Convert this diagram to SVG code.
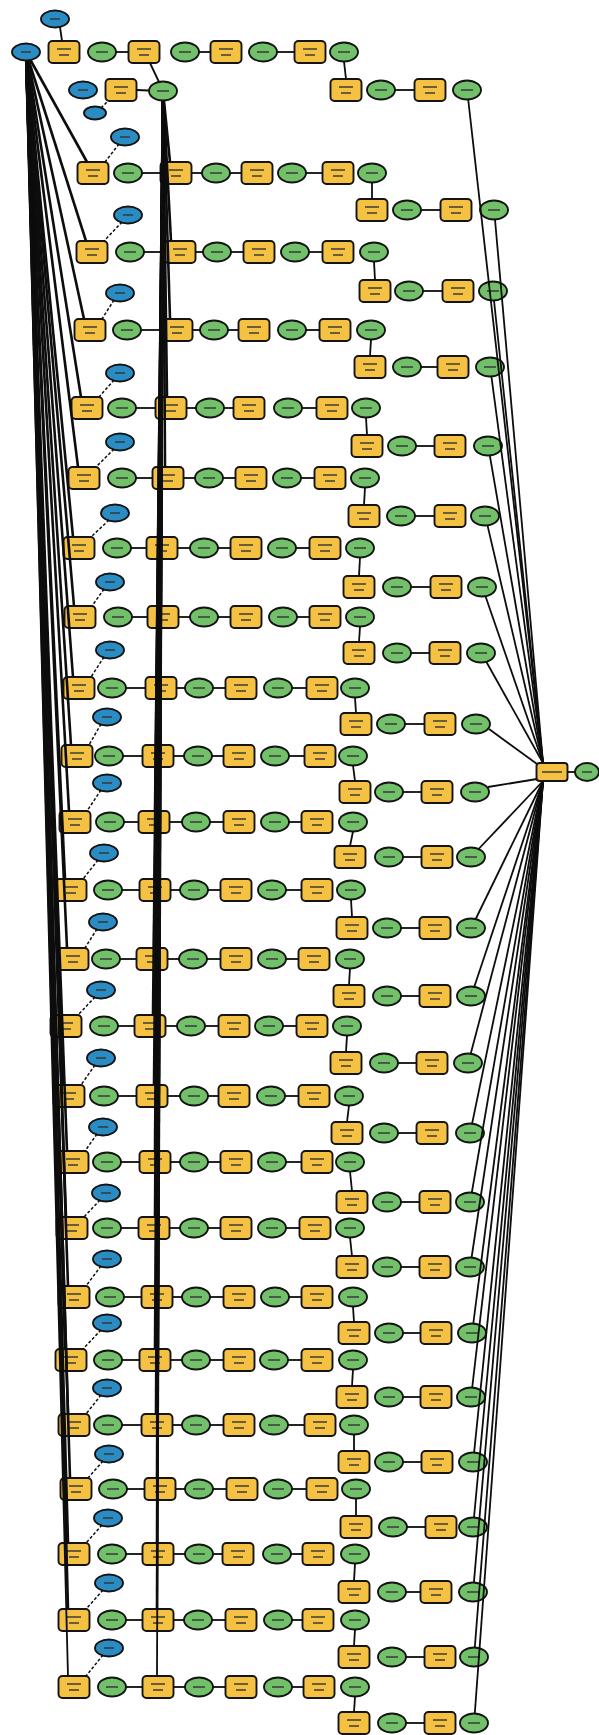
<svg xmlns="http://www.w3.org/2000/svg" width="599" height="1735" viewBox="0 0 599 1735">
<style>
.t{fill:#F4C143;stroke:#141414;stroke-width:1.9}
.o{fill:#72C06A;stroke:#141414;stroke-width:1.9}
.d{fill:#2B8CC4;stroke:#141414;stroke-width:1.9}
.m{stroke:#333;stroke-width:1.4}
#connectors line{stroke:#0d0d0d;stroke-width:1.8;fill:none}
#connectors line.b{stroke-width:2.6}
#connectors line.dash{stroke-dasharray:3 2;stroke-width:1.5}
</style>
<defs>
<g id="T"><rect x="-15.5" y="-11" width="31" height="22" rx="4" class="t"/><line x1="-7" y1="-3" x2="7" y2="-3" class="m"/><line x1="-5" y1="3" x2="5" y2="3" class="m"/></g>
<g id="O"><ellipse rx="14" ry="9.5" class="o"/><line x1="-6" y1="0" x2="6" y2="0" class="m"/></g>
<g id="D"><ellipse rx="14" ry="8.5" class="d"/><line x1="-5" y1="0" x2="5" y2="0" class="m"/></g>
<g id="Ds"><ellipse rx="11" ry="6.5" class="d"/></g>
<g id="H"><rect x="-15.5" y="-9" width="31" height="18" rx="3" class="t"/><line x1="-10" y1="0" x2="10" y2="0" class="m"/></g>
<g id="Oh"><ellipse rx="12" ry="9" class="o"/><line x1="-5" y1="0" x2="5" y2="0" class="m"/></g>
</defs>
<rect width="599" height="1735" fill="#fff"/>
<g id="n0_top"><use href="#D" x="55" y="19"/></g>
<g id="n0_t1"><use href="#T" x="64" y="52"/></g>
<g id="n0_o1"><use href="#O" x="102" y="52"/></g>
<g id="n0_t2"><use href="#T" x="144" y="52"/></g>
<g id="n0_o2"><use href="#O" x="185" y="52"/></g>
<g id="n0_t3"><use href="#T" x="226" y="52"/></g>
<g id="n0_o3"><use href="#O" x="263" y="52"/></g>
<g id="n0_t4"><use href="#T" x="310" y="52"/></g>
<g id="n0_o4"><use href="#O" x="344" y="52"/></g>
<g id="n0_t5"><use href="#T" x="346" y="90"/></g>
<g id="n0_o5"><use href="#O" x="381" y="90"/></g>
<g id="n0_t6"><use href="#T" x="430" y="90"/></g>
<g id="n0_o6"><use href="#O" x="467" y="90"/></g>
<g id="n0_in2"><use href="#D" x="83" y="90"/></g>
<g id="n0_t7"><use href="#T" x="121" y="90"/></g>
<g id="n0_sm"><use href="#Ds" x="95" y="113"/></g>
<g id="n_hubout"><use href="#Oh" x="587" y="772"/></g>
<g id="r1b"><use href="#D" x="125" y="137"/></g><g id="r1a"><use href="#T" x="93" y="173"/></g><g id="r1ao"><use href="#O" x="128" y="173"/></g><g id="r1c"><use href="#T" x="176" y="173"/></g><g id="r1co"><use href="#O" x="216" y="173"/></g><g id="r1d"><use href="#T" x="257" y="173"/></g><g id="r1do"><use href="#O" x="292" y="173"/></g><g id="r1e"><use href="#T" x="338" y="173"/></g><g id="r1eo"><use href="#O" x="372" y="173"/></g><g id="r1f"><use href="#T" x="372" y="210"/></g><g id="r1fo"><use href="#O" x="407" y="210"/></g><g id="r1g"><use href="#T" x="456" y="210"/></g><g id="r1go"><use href="#O" x="494" y="210"/></g>
<g id="r2b"><use href="#D" x="128" y="215"/></g><g id="r2a"><use href="#T" x="92" y="252"/></g><g id="r2ao"><use href="#O" x="130" y="252"/></g><g id="r2c"><use href="#T" x="180" y="252"/></g><g id="r2co"><use href="#O" x="217" y="252"/></g><g id="r2d"><use href="#T" x="259" y="252"/></g><g id="r2do"><use href="#O" x="295" y="252"/></g><g id="r2e"><use href="#T" x="338" y="252"/></g><g id="r2eo"><use href="#O" x="374" y="252"/></g><g id="r2f"><use href="#T" x="375" y="291"/></g><g id="r2fo"><use href="#O" x="409" y="291"/></g><g id="r2g"><use href="#T" x="458" y="291"/></g><g id="r2go"><use href="#O" x="493" y="291"/></g>
<g id="r3b"><use href="#D" x="120" y="293"/></g><g id="r3a"><use href="#T" x="90" y="330"/></g><g id="r3ao"><use href="#O" x="127" y="330"/></g><g id="r3c"><use href="#T" x="177" y="330"/></g><g id="r3co"><use href="#O" x="214" y="330"/></g><g id="r3d"><use href="#T" x="254" y="330"/></g><g id="r3do"><use href="#O" x="292" y="330"/></g><g id="r3e"><use href="#T" x="335" y="330"/></g><g id="r3eo"><use href="#O" x="371" y="330"/></g><g id="r3f"><use href="#T" x="370" y="367"/></g><g id="r3fo"><use href="#O" x="407" y="367"/></g><g id="r3g"><use href="#T" x="453" y="367"/></g><g id="r3go"><use href="#O" x="490" y="367"/></g>
<g id="r4b"><use href="#D" x="120" y="373"/></g><g id="r4a"><use href="#T" x="87" y="408"/></g><g id="r4ao"><use href="#O" x="122" y="408"/></g><g id="r4c"><use href="#T" x="171" y="408"/></g><g id="r4co"><use href="#O" x="210" y="408"/></g><g id="r4d"><use href="#T" x="249" y="408"/></g><g id="r4do"><use href="#O" x="288" y="408"/></g><g id="r4e"><use href="#T" x="332" y="408"/></g><g id="r4eo"><use href="#O" x="366" y="408"/></g><g id="r4f"><use href="#T" x="367" y="446"/></g><g id="r4fo"><use href="#O" x="402" y="446"/></g><g id="r4g"><use href="#T" x="450" y="446"/></g><g id="r4go"><use href="#O" x="488" y="446"/></g>
<g id="r5b"><use href="#D" x="120" y="442"/></g><g id="r5a"><use href="#T" x="84" y="478"/></g><g id="r5ao"><use href="#O" x="122" y="478"/></g><g id="r5c"><use href="#T" x="168" y="478"/></g><g id="r5co"><use href="#O" x="209" y="478"/></g><g id="r5d"><use href="#T" x="251" y="478"/></g><g id="r5do"><use href="#O" x="287" y="478"/></g><g id="r5e"><use href="#T" x="330" y="478"/></g><g id="r5eo"><use href="#O" x="365" y="478"/></g><g id="r5f"><use href="#T" x="364" y="516"/></g><g id="r5fo"><use href="#O" x="401" y="516"/></g><g id="r5g"><use href="#T" x="450" y="516"/></g><g id="r5go"><use href="#O" x="485" y="516"/></g>
<g id="r6b"><use href="#D" x="115" y="513"/></g><g id="r6a"><use href="#T" x="79" y="548"/></g><g id="r6ao"><use href="#O" x="117" y="548"/></g><g id="r6c"><use href="#T" x="162" y="548"/></g><g id="r6co"><use href="#O" x="204" y="548"/></g><g id="r6d"><use href="#T" x="246" y="548"/></g><g id="r6do"><use href="#O" x="282" y="548"/></g><g id="r6e"><use href="#T" x="325" y="548"/></g><g id="r6eo"><use href="#O" x="360" y="548"/></g><g id="r6f"><use href="#T" x="359" y="587"/></g><g id="r6fo"><use href="#O" x="397" y="587"/></g><g id="r6g"><use href="#T" x="446" y="587"/></g><g id="r6go"><use href="#O" x="482" y="587"/></g>
<g id="r7b"><use href="#D" x="110" y="582"/></g><g id="r7a"><use href="#T" x="80" y="617"/></g><g id="r7ao"><use href="#O" x="118" y="617"/></g><g id="r7c"><use href="#T" x="163" y="617"/></g><g id="r7co"><use href="#O" x="204" y="617"/></g><g id="r7d"><use href="#T" x="246" y="617"/></g><g id="r7do"><use href="#O" x="283" y="617"/></g><g id="r7e"><use href="#T" x="325" y="617"/></g><g id="r7eo"><use href="#O" x="360" y="617"/></g><g id="r7f"><use href="#T" x="359" y="653"/></g><g id="r7fo"><use href="#O" x="397" y="653"/></g><g id="r7g"><use href="#T" x="445" y="653"/></g><g id="r7go"><use href="#O" x="481" y="653"/></g>
<g id="r8b"><use href="#D" x="110" y="650"/></g><g id="r8a"><use href="#T" x="79" y="688"/></g><g id="r8ao"><use href="#O" x="112" y="688"/></g><g id="r8c"><use href="#T" x="161" y="688"/></g><g id="r8co"><use href="#O" x="199" y="688"/></g><g id="r8d"><use href="#T" x="241" y="688"/></g><g id="r8do"><use href="#O" x="278" y="688"/></g><g id="r8e"><use href="#T" x="322" y="688"/></g><g id="r8eo"><use href="#O" x="355" y="688"/></g><g id="r8f"><use href="#T" x="356" y="724"/></g><g id="r8fo"><use href="#O" x="391" y="724"/></g><g id="r8g"><use href="#T" x="440" y="724"/></g><g id="r8go"><use href="#O" x="476" y="724"/></g>
<g id="r9b"><use href="#D" x="107" y="717"/></g><g id="r9a"><use href="#T" x="77" y="756"/></g><g id="r9ao"><use href="#O" x="109" y="756"/></g><g id="r9c"><use href="#T" x="158" y="756"/></g><g id="r9co"><use href="#O" x="198" y="756"/></g><g id="r9d"><use href="#T" x="239" y="756"/></g><g id="r9do"><use href="#O" x="275" y="756"/></g><g id="r9e"><use href="#T" x="320" y="756"/></g><g id="r9eo"><use href="#O" x="353" y="756"/></g><g id="r9f"><use href="#T" x="355" y="792"/></g><g id="r9fo"><use href="#O" x="389" y="792"/></g><g id="r9g"><use href="#T" x="437" y="792"/></g><g id="r9go"><use href="#O" x="475" y="792"/></g>
<g id="r10b"><use href="#D" x="107" y="783"/></g><g id="r10a"><use href="#T" x="75" y="822"/></g><g id="r10ao"><use href="#O" x="110" y="822"/></g><g id="r10c"><use href="#T" x="154" y="822"/></g><g id="r10co"><use href="#O" x="196" y="822"/></g><g id="r10d"><use href="#T" x="239" y="822"/></g><g id="r10do"><use href="#O" x="275" y="822"/></g><g id="r10e"><use href="#T" x="317" y="822"/></g><g id="r10eo"><use href="#O" x="353" y="822"/></g><g id="r10f"><use href="#T" x="350" y="857"/></g><g id="r10fo"><use href="#O" x="389" y="857"/></g><g id="r10g"><use href="#T" x="437" y="857"/></g><g id="r10go"><use href="#O" x="471" y="857"/></g>
<g id="r11b"><use href="#D" x="104" y="853"/></g><g id="r11a"><use href="#T" x="71" y="890"/></g><g id="r11ao"><use href="#O" x="108" y="890"/></g><g id="r11c"><use href="#T" x="155" y="890"/></g><g id="r11co"><use href="#O" x="194" y="890"/></g><g id="r11d"><use href="#T" x="236" y="890"/></g><g id="r11do"><use href="#O" x="272" y="890"/></g><g id="r11e"><use href="#T" x="317" y="890"/></g><g id="r11eo"><use href="#O" x="351" y="890"/></g><g id="r11f"><use href="#T" x="352" y="928"/></g><g id="r11fo"><use href="#O" x="387" y="928"/></g><g id="r11g"><use href="#T" x="435" y="928"/></g><g id="r11go"><use href="#O" x="471" y="928"/></g>
<g id="r12b"><use href="#D" x="103" y="922"/></g><g id="r12a"><use href="#T" x="73" y="959"/></g><g id="r12ao"><use href="#O" x="106" y="959"/></g><g id="r12c"><use href="#T" x="152" y="959"/></g><g id="r12co"><use href="#O" x="193" y="959"/></g><g id="r12d"><use href="#T" x="236" y="959"/></g><g id="r12do"><use href="#O" x="272" y="959"/></g><g id="r12e"><use href="#T" x="314" y="959"/></g><g id="r12eo"><use href="#O" x="350" y="959"/></g><g id="r12f"><use href="#T" x="349" y="996"/></g><g id="r12fo"><use href="#O" x="387" y="996"/></g><g id="r12g"><use href="#T" x="435" y="996"/></g><g id="r12go"><use href="#O" x="471" y="996"/></g>
<g id="r13b"><use href="#D" x="101" y="990"/></g><g id="r13a"><use href="#T" x="66" y="1026"/></g><g id="r13ao"><use href="#O" x="104" y="1026"/></g><g id="r13c"><use href="#T" x="150" y="1026"/></g><g id="r13co"><use href="#O" x="191" y="1026"/></g><g id="r13d"><use href="#T" x="234" y="1026"/></g><g id="r13do"><use href="#O" x="269" y="1026"/></g><g id="r13e"><use href="#T" x="312" y="1026"/></g><g id="r13eo"><use href="#O" x="347" y="1026"/></g><g id="r13f"><use href="#T" x="346" y="1063"/></g><g id="r13fo"><use href="#O" x="384" y="1063"/></g><g id="r13g"><use href="#T" x="432" y="1063"/></g><g id="r13go"><use href="#O" x="468" y="1063"/></g>
<g id="r14b"><use href="#D" x="101" y="1058"/></g><g id="r14a"><use href="#T" x="69" y="1096"/></g><g id="r14ao"><use href="#O" x="104" y="1096"/></g><g id="r14c"><use href="#T" x="152" y="1096"/></g><g id="r14co"><use href="#O" x="194" y="1096"/></g><g id="r14d"><use href="#T" x="234" y="1096"/></g><g id="r14do"><use href="#O" x="271" y="1096"/></g><g id="r14e"><use href="#T" x="314" y="1096"/></g><g id="r14eo"><use href="#O" x="349" y="1096"/></g><g id="r14f"><use href="#T" x="347" y="1133"/></g><g id="r14fo"><use href="#O" x="384" y="1133"/></g><g id="r14g"><use href="#T" x="432" y="1133"/></g><g id="r14go"><use href="#O" x="470" y="1133"/></g>
<g id="r15b"><use href="#D" x="103" y="1127"/></g><g id="r15a"><use href="#T" x="73" y="1162"/></g><g id="r15ao"><use href="#O" x="107" y="1162"/></g><g id="r15c"><use href="#T" x="155" y="1162"/></g><g id="r15co"><use href="#O" x="194" y="1162"/></g><g id="r15d"><use href="#T" x="236" y="1162"/></g><g id="r15do"><use href="#O" x="272" y="1162"/></g><g id="r15e"><use href="#T" x="317" y="1162"/></g><g id="r15eo"><use href="#O" x="350" y="1162"/></g><g id="r15f"><use href="#T" x="352" y="1202"/></g><g id="r15fo"><use href="#O" x="387" y="1202"/></g><g id="r15g"><use href="#T" x="435" y="1202"/></g><g id="r15go"><use href="#O" x="470" y="1202"/></g>
<g id="r16b"><use href="#D" x="106" y="1193"/></g><g id="r16a"><use href="#T" x="72" y="1228"/></g><g id="r16ao"><use href="#O" x="107" y="1228"/></g><g id="r16c"><use href="#T" x="154" y="1228"/></g><g id="r16co"><use href="#O" x="194" y="1228"/></g><g id="r16d"><use href="#T" x="236" y="1228"/></g><g id="r16do"><use href="#O" x="272" y="1228"/></g><g id="r16e"><use href="#T" x="315" y="1228"/></g><g id="r16eo"><use href="#O" x="350" y="1228"/></g><g id="r16f"><use href="#T" x="352" y="1267"/></g><g id="r16fo"><use href="#O" x="387" y="1267"/></g><g id="r16g"><use href="#T" x="435" y="1267"/></g><g id="r16go"><use href="#O" x="470" y="1267"/></g>
<g id="r17b"><use href="#D" x="107" y="1259"/></g><g id="r17a"><use href="#T" x="74" y="1297"/></g><g id="r17ao"><use href="#O" x="110" y="1297"/></g><g id="r17c"><use href="#T" x="157" y="1297"/></g><g id="r17co"><use href="#O" x="196" y="1297"/></g><g id="r17d"><use href="#T" x="239" y="1297"/></g><g id="r17do"><use href="#O" x="275" y="1297"/></g><g id="r17e"><use href="#T" x="317" y="1297"/></g><g id="r17eo"><use href="#O" x="353" y="1297"/></g><g id="r17f"><use href="#T" x="354" y="1333"/></g><g id="r17fo"><use href="#O" x="389" y="1333"/></g><g id="r17g"><use href="#T" x="436" y="1333"/></g><g id="r17go"><use href="#O" x="472" y="1333"/></g>
<g id="r18b"><use href="#D" x="107" y="1323"/></g><g id="r18a"><use href="#T" x="71" y="1360"/></g><g id="r18ao"><use href="#O" x="108" y="1360"/></g><g id="r18c"><use href="#T" x="155" y="1360"/></g><g id="r18co"><use href="#O" x="196" y="1360"/></g><g id="r18d"><use href="#T" x="239" y="1360"/></g><g id="r18do"><use href="#O" x="274" y="1360"/></g><g id="r18e"><use href="#T" x="317" y="1360"/></g><g id="r18eo"><use href="#O" x="353" y="1360"/></g><g id="r18f"><use href="#T" x="352" y="1397"/></g><g id="r18fo"><use href="#O" x="389" y="1397"/></g><g id="r18g"><use href="#T" x="436" y="1397"/></g><g id="r18go"><use href="#O" x="471" y="1397"/></g>
<g id="r19b"><use href="#D" x="107" y="1388"/></g><g id="r19a"><use href="#T" x="74" y="1425"/></g><g id="r19ao"><use href="#O" x="108" y="1425"/></g><g id="r19c"><use href="#T" x="157" y="1425"/></g><g id="r19co"><use href="#O" x="196" y="1425"/></g><g id="r19d"><use href="#T" x="239" y="1425"/></g><g id="r19do"><use href="#O" x="274" y="1425"/></g><g id="r19e"><use href="#T" x="320" y="1425"/></g><g id="r19eo"><use href="#O" x="354" y="1425"/></g><g id="r19f"><use href="#T" x="354" y="1462"/></g><g id="r19fo"><use href="#O" x="389" y="1462"/></g><g id="r19g"><use href="#T" x="437" y="1462"/></g><g id="r19go"><use href="#O" x="473" y="1462"/></g>
<g id="r20b"><use href="#D" x="109" y="1454"/></g><g id="r20a"><use href="#T" x="76" y="1489"/></g><g id="r20ao"><use href="#O" x="113" y="1489"/></g><g id="r20c"><use href="#T" x="160" y="1489"/></g><g id="r20co"><use href="#O" x="199" y="1489"/></g><g id="r20d"><use href="#T" x="242" y="1489"/></g><g id="r20do"><use href="#O" x="278" y="1489"/></g><g id="r20e"><use href="#T" x="322" y="1489"/></g><g id="r20eo"><use href="#O" x="356" y="1489"/></g><g id="r20f"><use href="#T" x="356" y="1527"/></g><g id="r20fo"><use href="#O" x="393" y="1527"/></g><g id="r20g"><use href="#T" x="441" y="1527"/></g><g id="r20go"><use href="#O" x="473" y="1527"/></g>
<g id="r21b"><use href="#D" x="108" y="1518"/></g><g id="r21a"><use href="#T" x="74" y="1554"/></g><g id="r21ao"><use href="#O" x="112" y="1554"/></g><g id="r21c"><use href="#T" x="158" y="1554"/></g><g id="r21co"><use href="#O" x="199" y="1554"/></g><g id="r21d"><use href="#T" x="238" y="1554"/></g><g id="r21do"><use href="#O" x="277" y="1554"/></g><g id="r21e"><use href="#T" x="318" y="1554"/></g><g id="r21eo"><use href="#O" x="355" y="1554"/></g><g id="r21f"><use href="#T" x="354" y="1592"/></g><g id="r21fo"><use href="#O" x="392" y="1592"/></g><g id="r21g"><use href="#T" x="436" y="1592"/></g><g id="r21go"><use href="#O" x="473" y="1592"/></g>
<g id="r22b"><use href="#D" x="109" y="1583"/></g><g id="r22a"><use href="#T" x="74" y="1620"/></g><g id="r22ao"><use href="#O" x="112" y="1620"/></g><g id="r22c"><use href="#T" x="158" y="1620"/></g><g id="r22co"><use href="#O" x="198" y="1620"/></g><g id="r22d"><use href="#T" x="241" y="1620"/></g><g id="r22do"><use href="#O" x="278" y="1620"/></g><g id="r22e"><use href="#T" x="318" y="1620"/></g><g id="r22eo"><use href="#O" x="355" y="1620"/></g><g id="r22f"><use href="#T" x="354" y="1657"/></g><g id="r22fo"><use href="#O" x="392" y="1657"/></g><g id="r22g"><use href="#T" x="440" y="1657"/></g><g id="r22go"><use href="#O" x="474" y="1657"/></g>
<g id="r23b"><use href="#D" x="109" y="1648"/></g><g id="r23a"><use href="#T" x="74" y="1687"/></g><g id="r23ao"><use href="#O" x="112" y="1687"/></g><g id="r23c"><use href="#T" x="158" y="1687"/></g><g id="r23co"><use href="#O" x="199" y="1687"/></g><g id="r23d"><use href="#T" x="241" y="1687"/></g><g id="r23do"><use href="#O" x="278" y="1687"/></g><g id="r23e"><use href="#T" x="319" y="1687"/></g><g id="r23eo"><use href="#O" x="355" y="1687"/></g><g id="r23f"><use href="#T" x="354" y="1723"/></g><g id="r23fo"><use href="#O" x="392" y="1723"/></g><g id="r23g"><use href="#T" x="440" y="1723"/></g><g id="r23go"><use href="#O" x="474" y="1723"/></g>
<g id="connectors">
<line x1="60" y1="27" x2="62" y2="41"/><line x1="116" y1="52" x2="128.5" y2="52"/><line x1="199" y1="52" x2="210.5" y2="52"/><line x1="277" y1="52" x2="294.5" y2="52"/><line x1="344" y1="61.5" x2="346" y2="79"/><line x1="395" y1="90" x2="414.5" y2="90"/><line x1="150" y1="63" x2="159" y2="82"/><line x1="136.5" y1="90" x2="149" y2="90.5"/><line class="dash" x1="101" y1="108" x2="108" y2="101"/><line x1="567.5" y1="772" x2="575" y2="772"/><line x1="468.2" y1="99.5" x2="543" y2="763"/>
<line class="b" x1="26" y1="52" x2="87" y2="162"/><line class="b" x1="163" y1="91" x2="170" y2="162"/><line class="dash" x1="119" y1="144" x2="105" y2="162"/><line x1="142" y1="173" x2="160.5" y2="173"/><line x1="191.5" y1="173" x2="202" y2="173"/><line x1="230" y1="173" x2="241.5" y2="173"/><line x1="306" y1="173" x2="322.5" y2="173"/><line x1="372" y1="182.5" x2="372" y2="199"/><line x1="421" y1="210" x2="440.5" y2="210"/><line x1="495" y1="219.5" x2="543" y2="763"/>
<line class="b" x1="26" y1="52" x2="86" y2="241"/><line class="b" x1="163" y1="91" x2="171" y2="241"/><line class="dash" x1="122" y1="222" x2="104" y2="241"/><line x1="144" y1="252" x2="164.5" y2="252"/><line x1="195.5" y1="252" x2="203" y2="252"/><line x1="231" y1="252" x2="243.5" y2="252"/><line x1="309" y1="252" x2="322.5" y2="252"/><line x1="374" y1="261.5" x2="375" y2="280"/><line x1="423" y1="291" x2="442.5" y2="291"/><line x1="494" y1="300.5" x2="543" y2="763"/>
<line class="b" x1="26" y1="52" x2="84" y2="319"/><line class="b" x1="163" y1="91" x2="170" y2="319"/><line class="dash" x1="114" y1="300" x2="102" y2="319"/><line x1="141" y1="330" x2="161.5" y2="330"/><line x1="192.5" y1="330" x2="200" y2="330"/><line x1="228" y1="330" x2="238.5" y2="330"/><line x1="306" y1="330" x2="319.5" y2="330"/><line x1="371" y1="339.5" x2="370" y2="356"/><line x1="421" y1="367" x2="437.5" y2="367"/><line x1="491.4" y1="376.4" x2="543" y2="763"/>
<line class="b" x1="26" y1="52" x2="81" y2="397"/><line class="b" x1="163" y1="91" x2="167" y2="397"/><line class="dash" x1="114" y1="380" x2="99" y2="397"/><line x1="136" y1="408" x2="155.5" y2="408"/><line x1="186.5" y1="408" x2="196" y2="408"/><line x1="224" y1="408" x2="233.5" y2="408"/><line x1="302" y1="408" x2="316.5" y2="408"/><line x1="366" y1="417.5" x2="367" y2="435"/><line x1="416" y1="446" x2="434.5" y2="446"/><line x1="489.8" y1="455.4" x2="543" y2="763"/>
<line class="b" x1="26" y1="52" x2="78" y2="467"/><line class="b" x1="163" y1="91" x2="165" y2="467"/><line class="dash" x1="114" y1="449" x2="96" y2="467"/><line x1="136" y1="478" x2="152.5" y2="478"/><line x1="183.5" y1="478" x2="195" y2="478"/><line x1="223" y1="478" x2="235.5" y2="478"/><line x1="301" y1="478" x2="314.5" y2="478"/><line x1="365" y1="487.5" x2="364" y2="505"/><line x1="415" y1="516" x2="434.5" y2="516"/><line x1="487.5" y1="525.4" x2="543" y2="763"/>
<line class="b" x1="26" y1="52" x2="73" y2="537"/><line class="b" x1="163" y1="91" x2="161" y2="537"/><line class="dash" x1="109" y1="520" x2="91" y2="537"/><line x1="131" y1="548" x2="146.5" y2="548"/><line x1="177.5" y1="548" x2="190" y2="548"/><line x1="218" y1="548" x2="230.5" y2="548"/><line x1="296" y1="548" x2="309.5" y2="548"/><line x1="360" y1="557.5" x2="359" y2="576"/><line x1="411" y1="587" x2="430.5" y2="587"/><line x1="485.5" y1="596.2" x2="543" y2="763"/>
<line class="b" x1="26" y1="52" x2="74" y2="606"/><line class="b" x1="163" y1="91" x2="161" y2="606"/><line class="dash" x1="104" y1="589" x2="92" y2="606"/><line x1="132" y1="617" x2="147.5" y2="617"/><line x1="178.5" y1="617" x2="190" y2="617"/><line x1="218" y1="617" x2="230.5" y2="617"/><line x1="297" y1="617" x2="309.5" y2="617"/><line x1="360" y1="626.5" x2="359" y2="642"/><line x1="411" y1="653" x2="429.5" y2="653"/><line x1="486.3" y1="661.8" x2="543" y2="763"/>
<line class="b" x1="26" y1="52" x2="73" y2="677"/><line class="b" x1="163" y1="91" x2="159" y2="677"/><line class="dash" x1="104" y1="657" x2="91" y2="677"/><line x1="126" y1="688" x2="145.5" y2="688"/><line x1="176.5" y1="688" x2="185" y2="688"/><line x1="213" y1="688" x2="225.5" y2="688"/><line x1="292" y1="688" x2="306.5" y2="688"/><line x1="355" y1="697.5" x2="356" y2="713"/><line x1="405" y1="724" x2="424.5" y2="724"/><line x1="489" y1="729" x2="537" y2="764"/>
<line class="b" x1="26" y1="52" x2="71" y2="745"/><line class="b" x1="163" y1="91" x2="157" y2="745"/><line class="dash" x1="101" y1="724" x2="89" y2="745"/><line x1="123" y1="756" x2="142.5" y2="756"/><line x1="173.5" y1="756" x2="184" y2="756"/><line x1="212" y1="756" x2="223.5" y2="756"/><line x1="289" y1="756" x2="304.5" y2="756"/><line x1="353" y1="765.5" x2="355" y2="781"/><line x1="403" y1="792" x2="421.5" y2="792"/><line x1="488" y1="787" x2="537" y2="779"/>
<line class="b" x1="26" y1="52" x2="69" y2="811"/><line class="b" x1="163" y1="91" x2="155" y2="811"/><line class="dash" x1="101" y1="790" x2="87" y2="811"/><line x1="124" y1="822" x2="138.5" y2="822"/><line x1="169.5" y1="822" x2="182" y2="822"/><line x1="210" y1="822" x2="223.5" y2="822"/><line x1="289" y1="822" x2="301.5" y2="822"/><line x1="353" y1="831.5" x2="350" y2="846"/><line x1="403" y1="857" x2="421.5" y2="857"/><line x1="478.6" y1="849" x2="543" y2="781"/>
<line class="b" x1="26" y1="52" x2="65" y2="879"/><line class="b" x1="163" y1="91" x2="155" y2="879"/><line class="dash" x1="98" y1="860" x2="83" y2="879"/><line x1="122" y1="890" x2="139.5" y2="890"/><line x1="170.5" y1="890" x2="180" y2="890"/><line x1="208" y1="890" x2="220.5" y2="890"/><line x1="286" y1="890" x2="301.5" y2="890"/><line x1="351" y1="899.5" x2="352" y2="917"/><line x1="401" y1="928" x2="419.5" y2="928"/><line x1="475.7" y1="919" x2="543" y2="781"/>
<line class="b" x1="26" y1="52" x2="67" y2="948"/><line class="b" x1="163" y1="91" x2="154" y2="948"/><line class="dash" x1="97" y1="929" x2="85" y2="948"/><line x1="120" y1="959" x2="136.5" y2="959"/><line x1="167.5" y1="959" x2="179" y2="959"/><line x1="207" y1="959" x2="220.5" y2="959"/><line x1="286" y1="959" x2="298.5" y2="959"/><line x1="350" y1="968.5" x2="349" y2="985"/><line x1="401" y1="996" x2="419.5" y2="996"/><line x1="474.3" y1="986.8" x2="543" y2="781"/>
<line class="b" x1="26" y1="52" x2="60" y2="1015"/><line class="b" x1="163" y1="91" x2="153" y2="1015"/><line class="dash" x1="95" y1="997" x2="78" y2="1015"/><line x1="118" y1="1026" x2="134.5" y2="1026"/><line x1="165.5" y1="1026" x2="177" y2="1026"/><line x1="205" y1="1026" x2="218.5" y2="1026"/><line x1="283" y1="1026" x2="296.5" y2="1026"/><line x1="347" y1="1035.5" x2="346" y2="1052"/><line x1="398" y1="1063" x2="416.5" y2="1063"/><line x1="470.7" y1="1053.7" x2="543" y2="781"/>
<line class="b" x1="26" y1="52" x2="63" y2="1085"/><line class="b" x1="163" y1="91" x2="154" y2="1085"/><line class="dash" x1="95" y1="1065" x2="81" y2="1085"/><line x1="118" y1="1096" x2="136.5" y2="1096"/><line x1="167.5" y1="1096" x2="180" y2="1096"/><line x1="208" y1="1096" x2="218.5" y2="1096"/><line x1="285" y1="1096" x2="298.5" y2="1096"/><line x1="349" y1="1105.5" x2="347" y2="1122"/><line x1="398" y1="1133" x2="416.5" y2="1133"/><line x1="472.1" y1="1123.6" x2="543" y2="781"/>
<line class="b" x1="26" y1="52" x2="67" y2="1151"/><line class="b" x1="163" y1="91" x2="155" y2="1151"/><line class="dash" x1="97" y1="1134" x2="85" y2="1151"/><line x1="121" y1="1162" x2="139.5" y2="1162"/><line x1="170.5" y1="1162" x2="180" y2="1162"/><line x1="208" y1="1162" x2="220.5" y2="1162"/><line x1="286" y1="1162" x2="301.5" y2="1162"/><line x1="350" y1="1171.5" x2="352" y2="1191"/><line x1="401" y1="1202" x2="419.5" y2="1202"/><line x1="471.8" y1="1192.6" x2="543" y2="781"/>
<line class="b" x1="26" y1="52" x2="66" y2="1217"/><line class="b" x1="163" y1="91" x2="155" y2="1217"/><line class="dash" x1="100" y1="1200" x2="84" y2="1217"/><line x1="121" y1="1228" x2="138.5" y2="1228"/><line x1="169.5" y1="1228" x2="180" y2="1228"/><line x1="208" y1="1228" x2="220.5" y2="1228"/><line x1="286" y1="1228" x2="299.5" y2="1228"/><line x1="350" y1="1237.5" x2="352" y2="1256"/><line x1="401" y1="1267" x2="419.5" y2="1267"/><line x1="471.6" y1="1257.5" x2="543" y2="781"/>
<line class="b" x1="26" y1="52" x2="68" y2="1286"/><line class="b" x1="163" y1="91" x2="156" y2="1286"/><line class="dash" x1="101" y1="1266" x2="86" y2="1286"/><line x1="124" y1="1297" x2="141.5" y2="1297"/><line x1="172.5" y1="1297" x2="182" y2="1297"/><line x1="210" y1="1297" x2="223.5" y2="1297"/><line x1="289" y1="1297" x2="301.5" y2="1297"/><line x1="353" y1="1306.5" x2="354" y2="1322"/><line x1="403" y1="1333" x2="420.5" y2="1333"/><line x1="473.3" y1="1323.5" x2="543" y2="781"/>
<line class="b" x1="26" y1="52" x2="65" y2="1349"/><line class="b" x1="163" y1="91" x2="155" y2="1349"/><line class="dash" x1="101" y1="1330" x2="83" y2="1349"/><line x1="122" y1="1360" x2="139.5" y2="1360"/><line x1="170.5" y1="1360" x2="182" y2="1360"/><line x1="210" y1="1360" x2="223.5" y2="1360"/><line x1="288" y1="1360" x2="301.5" y2="1360"/><line x1="353" y1="1369.5" x2="352" y2="1386"/><line x1="403" y1="1397" x2="420.5" y2="1397"/><line x1="472.2" y1="1387.5" x2="543" y2="781"/>
<line class="b" x1="26" y1="52" x2="68" y2="1414"/><line class="b" x1="163" y1="91" x2="156" y2="1414"/><line class="dash" x1="101" y1="1395" x2="86" y2="1414"/><line x1="122" y1="1425" x2="141.5" y2="1425"/><line x1="172.5" y1="1425" x2="182" y2="1425"/><line x1="210" y1="1425" x2="223.5" y2="1425"/><line x1="288" y1="1425" x2="304.5" y2="1425"/><line x1="354" y1="1434.5" x2="354" y2="1451"/><line x1="403" y1="1462" x2="421.5" y2="1462"/><line x1="474.1" y1="1452.5" x2="543" y2="781"/>
<line class="b" x1="26" y1="52" x2="70" y2="1478"/><line class="b" x1="163" y1="91" x2="157" y2="1478"/><line class="dash" x1="103" y1="1461" x2="88" y2="1478"/><line x1="127" y1="1489" x2="144.5" y2="1489"/><line x1="175.5" y1="1489" x2="185" y2="1489"/><line x1="213" y1="1489" x2="226.5" y2="1489"/><line x1="292" y1="1489" x2="306.5" y2="1489"/><line x1="356" y1="1498.5" x2="356" y2="1516"/><line x1="407" y1="1527" x2="425.5" y2="1527"/><line x1="474" y1="1517.5" x2="543" y2="781"/>
<line class="b" x1="26" y1="52" x2="68" y2="1543"/><line class="b" x1="163" y1="91" x2="157" y2="1543"/><line class="dash" x1="102" y1="1525" x2="86" y2="1543"/><line x1="126" y1="1554" x2="142.5" y2="1554"/><line x1="173.5" y1="1554" x2="185" y2="1554"/><line x1="213" y1="1554" x2="222.5" y2="1554"/><line x1="291" y1="1554" x2="302.5" y2="1554"/><line x1="355" y1="1563.5" x2="354" y2="1581"/><line x1="406" y1="1592" x2="420.5" y2="1592"/><line x1="473.9" y1="1582.5" x2="543" y2="781"/>
<line class="b" x1="26" y1="52" x2="68" y2="1609"/><line class="b" x1="163" y1="91" x2="157" y2="1609"/><line class="dash" x1="103" y1="1590" x2="86" y2="1609"/><line x1="126" y1="1620" x2="142.5" y2="1620"/><line x1="173.5" y1="1620" x2="184" y2="1620"/><line x1="212" y1="1620" x2="225.5" y2="1620"/><line x1="292" y1="1620" x2="302.5" y2="1620"/><line x1="355" y1="1629.5" x2="354" y2="1646"/><line x1="406" y1="1657" x2="424.5" y2="1657"/><line x1="474.8" y1="1647.5" x2="543" y2="781"/>
<line x1="26" y1="52" x2="68" y2="1676"/><line x1="163" y1="91" x2="157" y2="1676"/><line class="dash" x1="103" y1="1655" x2="86" y2="1676"/><line x1="126" y1="1687" x2="142.5" y2="1687"/><line x1="173.5" y1="1687" x2="185" y2="1687"/><line x1="213" y1="1687" x2="225.5" y2="1687"/><line x1="292" y1="1687" x2="303.5" y2="1687"/><line x1="355" y1="1696.5" x2="354" y2="1712"/><line x1="406" y1="1723" x2="424.5" y2="1723"/><line x1="474.8" y1="1713.5" x2="543" y2="781"/>
</g>
<g id="n0_in"><use href="#D" x="26" y="52"/></g>
<g id="n0_sh"><use href="#O" x="163" y="91"/></g>
<g id="n_hub"><use href="#H" x="552" y="772"/></g>
</svg>
